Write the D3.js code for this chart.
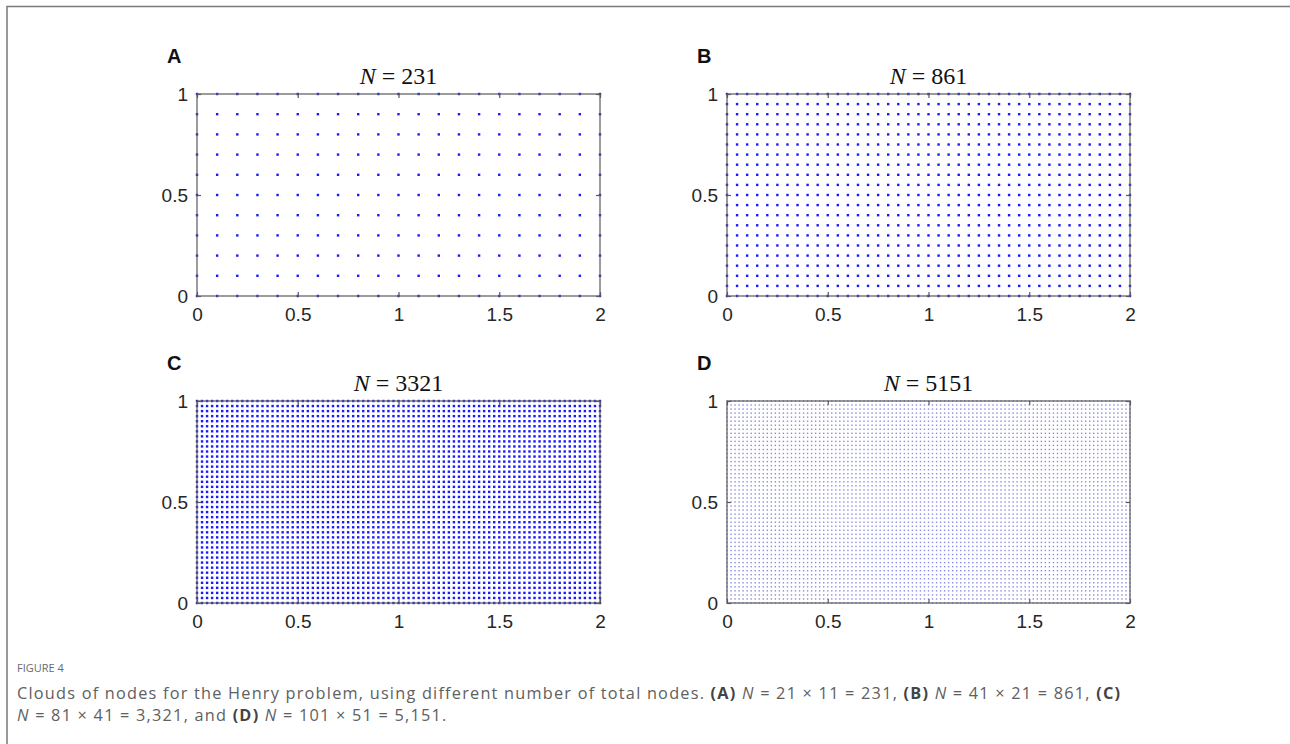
<!DOCTYPE html>
<html>
<head>
<meta charset="utf-8">
<script src="https://cdn.jsdelivr.net/npm/d3@7"></script>
<style>
  html, body { margin: 0; padding: 0; background: #fff; }
  svg { display: block; }
</style>
</head>
<body>
<script>
// Node clouds for the Henry problem: uniform grids on [0,2] x [0,1]
const panelLetters = ["A", "B", "C", "D"];
const nodesX = [21, 41, 81, 101];
const nodesY = [11, 21, 41, 51];
const xTicks = [0, 0.5, 1, 1.5, 2];
const yTicks = [0, 0.5, 1];
const xTickLabels = ["0", "0.5", "1", "1.5", "2"];
const yTickLabels = ["0", "0.5", "1"];

const W = 1290, H = 744;
const svg = d3.select("body").append("svg").attr("width", W).attr("height", H);

// figure frame (top and left edges)
svg.append("path")
  .attr("d", "M7,744 V6.5 H1290")
  .attr("fill", "none").attr("stroke", "#7a7a7a").attr("stroke-width", 1.5);

const panelLeft = [197, 727, 197, 727];
const panelTop = [94, 94, 401, 401];
const pw = 403, ph = 202;

// marker style per panel (denser grids drawn smaller and fainter)
const dotSize = [2.4, 2.4, 2.4, 1.4];
const dotColor = ["#1a1aff", "#1a1aff", "#1a1aff", "#8a8ae0"];

panelLetters.forEach((letter, p) => {
  const x0 = panelLeft[p], y0 = panelTop[p];
  const x = d3.scaleLinear().domain([0, 2]).range([x0, x0 + pw]);
  const y = d3.scaleLinear().domain([0, 1]).range([y0 + ph, y0]);
  const g = svg.append("g");

  // grid nodes
  const nx = nodesX[p], ny = nodesY[p];
  const nodes = [];
  for (let j = 0; j < ny; j++) {
    for (let i = 0; i < nx; i++) {
      nodes.push([2 * i / (nx - 1), j / (ny - 1)]);
    }
  }
  const s = dotSize[p];
  g.append("g").selectAll("rect").data(nodes).join("rect")
    .attr("x", d => x(d[0]) - s / 2)
    .attr("y", d => y(d[1]) - s / 2)
    .attr("width", s).attr("height", s)
    .attr("fill", dotColor[p]);

  // box and inward ticks on all four sides
  const axisColor = "#5a5a5a";
  const tl = 4;
  g.append("rect")
    .attr("x", x0).attr("y", y0).attr("width", pw).attr("height", ph)
    .attr("fill", "none").attr("stroke", axisColor).attr("stroke-width", 1.2);

  const bottomAxis = d3.axisBottom(x).tickValues(xTicks).tickSize(-tl).tickFormat((d, i) => xTickLabels[i]).tickPadding(12);
  const topAxis = d3.axisTop(x).tickValues(xTicks).tickSize(-tl).tickFormat("");
  const leftAxis = d3.axisLeft(y).tickValues(yTicks).tickSize(-tl).tickFormat((d, i) => yTickLabels[i]).tickPadding(9);
  const rightAxis = d3.axisRight(y).tickValues(yTicks).tickSize(-tl).tickFormat("");

  const styleAxis = sel => {
    sel.select(".domain").remove();
    sel.selectAll(".tick line").attr("stroke", axisColor).attr("stroke-width", 1.2);
    sel.selectAll(".tick text")
      .attr("fill", "#262626")
      .style("font-family", "'Liberation Sans', Arial, sans-serif")
      .style("font-size", "19px");
  };
  g.append("g").attr("transform", `translate(0,${y0 + ph})`).call(bottomAxis).call(styleAxis);
  g.append("g").attr("transform", `translate(0,${y0})`).call(topAxis).call(styleAxis);
  g.append("g").attr("transform", `translate(${x0},0)`).call(leftAxis).call(styleAxis);
  g.append("g").attr("transform", `translate(${x0 + pw},0)`).call(rightAxis).call(styleAxis);

  // title  N = nx*ny
  const title = g.append("text")
    .attr("x", x0 + pw / 2).attr("y", y0 - 10)
    .attr("text-anchor", "middle")
    .style("font-family", "'Liberation Serif', 'DejaVu Serif', serif")
    .style("font-size", "24px")
    .attr("fill", "#111");
  title.append("tspan").style("font-style", "italic").text("N");
  title.append("tspan").text(" = " + (nx * ny));

  // panel letter
  g.append("text")
    .attr("x", x0 - 30).attr("y", y0 - 31)
    .style("font-family", "'Liberation Sans', Arial, sans-serif")
    .style("font-size", "20px").style("font-weight", "bold")
    .attr("fill", "#111")
    .text(letter);
});

// caption
const capFont = "'Open Sans', 'Noto Sans', sans-serif";
svg.append("text")
  .attr("x", 17).attr("y", 672)
  .style("font-family", capFont).style("font-size", "11px")
  .attr("fill", "#6a6a6a")
  .text("FIGURE 4");

const line1 = [
  ["Clouds of nodes for the Henry problem, using different number of total nodes. ", ""],
  ["(A)", "b"], [" ", ""], ["N", "i"], [" = 21 × 11 = 231, ", ""],
  ["(B)", "b"], [" ", ""], ["N", "i"], [" = 41 × 21 = 861, ", ""],
  ["(C)", "b"]
];
const line2 = [
  ["N", "i"], [" = 81 × 41 = 3,321, and ", ""],
  ["(D)", "b"], [" ", ""], ["N", "i"], [" = 101 × 51 = 5,151.", ""]
];
[[line1, 699], [line2, 721]].forEach(([parts, yy]) => {
  const t = svg.append("text")
    .attr("x", 17).attr("y", yy)
    .style("font-family", capFont).style("font-size", "16.3px")
    .style("letter-spacing", "1.22px")
    .attr("fill", "#606060");
  parts.forEach(([txt, st]) => {
    const sp = t.append("tspan").text(txt);
    if (st === "b") sp.style("font-weight", "bold").attr("fill", "#444");
    if (st === "i") sp.style("font-style", "italic");
  });
});
</script>
</body>
</html>
